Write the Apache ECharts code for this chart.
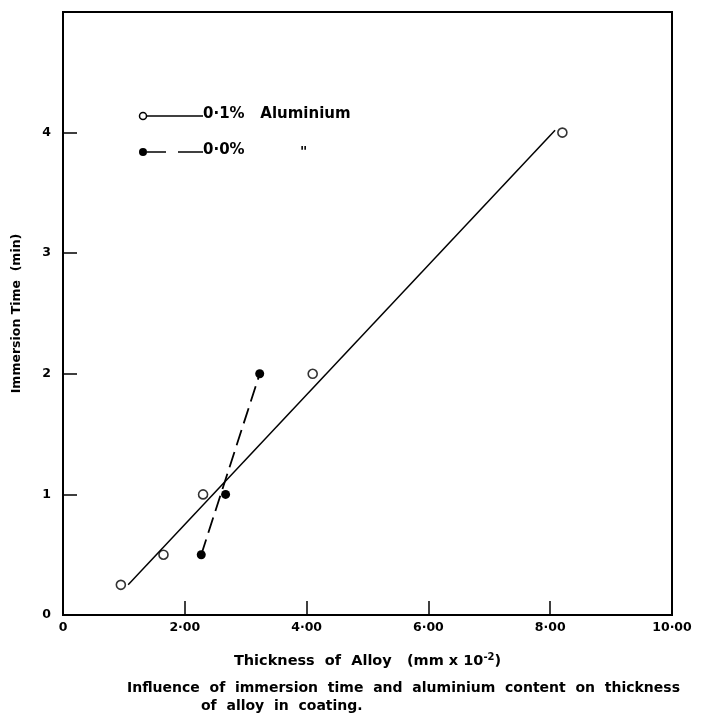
<!DOCTYPE html>
<html>
<head>
<meta charset="utf-8">
<script src="https://cdn.jsdelivr.net/npm/echarts@6/dist/echarts.min.js"></script>
<style>
    html, body { margin: 0; padding: 0; background: #fff; }
    #chart { width: 706px; height: 721px; }
</style>
</head>
<body>
<div id="chart"></div>
<script>
// tick labels
var xTickLabels = ['0', '2·00', '4·00', '6·00', '8·00', '10·00']
var yTickLabels = ['0', '1', '2', '3', '4', '']

// 0.1% aluminium: measured points + drawn line
var al01Points = [[0.95, 0.25], [1.65, 0.5], [2.3, 1.0], [4.1, 2.0], [8.2, 4.0]]
var al01Line = [[1.07, 0.25], [8.08, 4.02]]

// 0.0% aluminium: measured points + drawn line
var al00Points = [[2.27, 0.5], [2.67, 1.0], [3.23, 2.0]]
var al00Line = [[2.27, 0.5], [3.23, 2.0]]

var font = 'DejaVu Sans'

let chart = echarts.init(document.getElementById('chart'))
chart.setOption({
    backgroundColor: '#fff',
    animation: false,
    textStyle: { fontFamily: font, color: '#000' },
    grid: {
        left: 63, right: 34, top: 12, bottom: 106,
        show: true, borderColor: '#000', borderWidth: 2
    },
    xAxis: {
        type: 'value', min: 0, max: 10, interval: 2,
        axisLine: { lineStyle: { color: '#000', width: 2 } },
        axisTick: { inside: true, length: 14, lineStyle: { color: '#000', width: 1.5 } },
        axisLabel: {
            color: '#000', fontSize: 12.5, fontWeight: 'bold', margin: 6,
            formatter: function (v) { return xTickLabels[Math.round(v / 2)] }
        },
        splitLine: { show: false },
        name: 'Thickness  of  Alloy   (mm x 10{sup|-2})',
        nameLocation: 'middle', nameGap: 37,
        nameTextStyle: {
            color: '#000', fontSize: 14.5, fontWeight: 'bold',
            rich: { sup: { fontSize: 10, fontWeight: 'bold', verticalAlign: 'top', padding: [0, 0, 8, 0] } }
        }
    },
    yAxis: {
        type: 'value', min: 0, max: 5, interval: 1,
        axisLine: { lineStyle: { color: '#000', width: 2 } },
        axisTick: { inside: true, length: 14, lineStyle: { color: '#000', width: 1.5 } },
        axisLabel: {
            color: '#000', fontSize: 12.5, fontWeight: 'bold', margin: 12,
            formatter: function (v) { return yTickLabels[Math.round(v)] }
        },
        splitLine: { show: false },
        name: 'Immersion Time  (min)',
        nameLocation: 'middle', nameGap: 40,
        nameTextStyle: { color: '#000', fontSize: 12.5, fontWeight: 'bold' }
    },
    series: [{
        name: '0·1% Aluminium line',
        type: 'line',
        data: al01Line,
        showSymbol: false,
        lineStyle: { color: '#000', width: 1.5 }
    }, {
        name: '0·1% Aluminium',
        type: 'scatter',
        data: al01Points,
        symbol: 'circle',
        symbolSize: 9,
        itemStyle: { color: '#fff', borderColor: '#000', borderWidth: 1.6 }
    }, {
        name: '0·0% line',
        type: 'line',
        data: al00Line,
        showSymbol: false,
        lineStyle: { color: '#000', width: 1.8, type: [16, 7] }
    }, {
        name: '0·0%',
        type: 'scatter',
        data: al00Points,
        symbol: 'circle',
        symbolSize: 9,
        itemStyle: { color: '#000', opacity: 1 }
    }],
    graphic: [
        // legend
        { type: 'circle', shape: { cx: 143, cy: 116, r: 3.5 }, style: { fill: '#fff', stroke: '#000', lineWidth: 1.5 } },
        { type: 'line', shape: { x1: 147, y1: 116, x2: 203, y2: 116 }, style: { stroke: '#000', lineWidth: 1.5 } },
        { type: 'text', left: 203, top: 107, style: { text: '0·1%   Aluminium', font: 'bold 15px ' + font, fill: '#000' } },
        { type: 'circle', shape: { cx: 143, cy: 152, r: 4 }, style: { fill: '#000' } },
        { type: 'line', shape: { x1: 147, y1: 152, x2: 166, y2: 152 }, style: { stroke: '#000', lineWidth: 1.5 } },
        { type: 'line', shape: { x1: 178, y1: 152, x2: 203, y2: 152 }, style: { stroke: '#000', lineWidth: 1.5 } },
        { type: 'text', left: 203, top: 143, style: { text: '0·0%', font: 'bold 15px ' + font, fill: '#000' } },
        { type: 'text', left: 300, top: 145, style: { text: '"', font: 'bold 14px ' + font, fill: '#000' } },
        // caption
        { type: 'text', left: 127, top: 681, style: { text: 'Influence  of  immersion  time  and  aluminium  content  on  thickness', font: 'bold 14px ' + font, fill: '#000' } },
        { type: 'text', left: 201, top: 699, style: { text: 'of  alloy  in  coating.', font: 'bold 14px ' + font, fill: '#000' } }
    ]
})
</script>
</body>
</html>
